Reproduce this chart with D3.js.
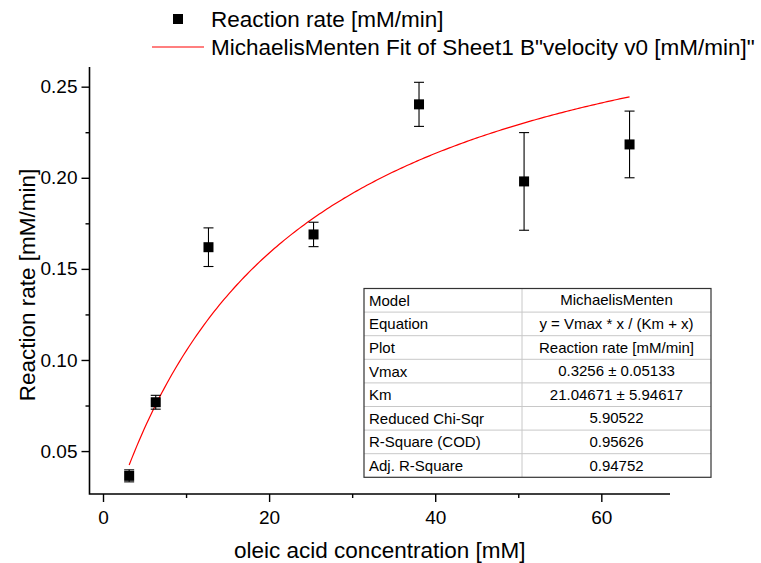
<!DOCTYPE html>
<html>
<head>
<meta charset="utf-8">
<script src="https://cdn.jsdelivr.net/npm/d3@7"></script>
<style>
  body { margin: 0; background: #fff; }
  svg { font-family: "Liberation Sans", Arial, sans-serif; }
</style>
</head>
<body>
<svg id="chart" width="761" height="563"></svg>
<script>
// measured points (oleic acid mM, rate mM/min, error)
const conc   = [3.15, 6.35, 12.7, 25.35, 38.05, 50.7, 63.4];
const rate   = [0.0364, 0.0768, 0.1619, 0.1689, 0.2403, 0.1980, 0.2183];
const rateSd = [0.0033, 0.0038, 0.0106, 0.0067, 0.0121, 0.0268, 0.0183];

// fit parameters from the Origin report
const vmax = 0.3256, km = 21.04671;
const fitRange = [3.15, 63.4];

const xTicks = [0, 20, 40, 60];
const xMinor = [10, 30, 50];
const yTicks = [0.05, 0.10, 0.15, 0.20, 0.25];
const yMinor = [0.075, 0.125, 0.175, 0.225];

const tableRows = [
  ["Model", "MichaelisMenten"],
  ["Equation", "y = Vmax * x / (Km + x)"],
  ["Plot", "Reaction rate [mM/min]"],
  ["Vmax", "0.3256 ± 0.05133"],
  ["Km", "21.04671 ± 5.94617"],
  ["Reduced Chi-Sqr", "5.90522"],
  ["R-Square (COD)", "0.95626"],
  ["Adj. R-Square", "0.94752"]
];

const svg = d3.select("#chart");
const L = 89.5, R = 670, T = 67, B = 494;

const x = d3.scaleLinear().domain([-1.626, 68.27]).range([L, R]);
const y = d3.scaleLinear().domain([0.02644, 0.2608]).range([B, T]);

// axes (left + bottom only), majors + minors
const xAxis = svg.append("g").attr("transform", `translate(0,${B})`)
  .call(d3.axisBottom(x).tickValues(xTicks).tickFormat(d3.format("d")).tickSize(8).tickPadding(9));
svg.append("g").attr("transform", `translate(0,${B})`)
  .call(d3.axisBottom(x).tickValues(xMinor).tickFormat("").tickSize(4))
  .select(".domain").remove();
const yAxis = svg.append("g").attr("transform", `translate(${L},0)`)
  .call(d3.axisLeft(y).tickValues(yTicks).tickFormat(d3.format(".2f")).tickSize(8).tickPadding(4));
svg.append("g").attr("transform", `translate(${L},0)`)
  .call(d3.axisLeft(y).tickValues(yMinor).tickFormat("").tickSize(4))
  .select(".domain").remove();

xAxis.select(".domain").remove();
yAxis.select(".domain").remove();
svg.append("path")
  .attr("d", `M${L},${T}V${B}H${R}`)
  .attr("fill", "none").attr("stroke", "#000").attr("stroke-width", 1.6);
svg.selectAll(".tick line").attr("stroke", "#000").attr("stroke-width", 1.4);
svg.selectAll(".tick text").attr("fill", "#000").style("font-size", "19px")
  .style("font-family", "'Liberation Sans', Arial, sans-serif");

// axis titles
svg.append("text")
  .attr("x", (L + R) / 2).attr("y", 558)
  .attr("text-anchor", "middle").style("font-size", "22.5px")
  .text("oleic acid concentration [mM]");
svg.append("text")
  .attr("transform", `translate(35,285) rotate(-90)`)
  .attr("text-anchor", "middle").style("font-size", "22.5px")
  .text("Reaction rate [mM/min]");

// fit curve
const fitX = d3.range(0, 201).map(i => fitRange[0] + (fitRange[1] - fitRange[0]) * i / 200);
const mm = c => vmax * c / (km + c);
svg.append("path")
  .datum(fitX)
  .attr("d", d3.line().x(d => x(d)).y(d => y(mm(d))))
  .attr("fill", "none").attr("stroke", "#ff0000").attr("stroke-width", 1.2);

// error bars
const pts = conc.map((c, i) => ({ c, r: rate[i], e: rateSd[i] }));
const eb = svg.append("g").attr("stroke", "#000").attr("stroke-width", 1.1);
eb.selectAll("line.v").data(pts).join("line")
  .attr("x1", d => x(d.c)).attr("x2", d => x(d.c))
  .attr("y1", d => y(d.r - d.e)).attr("y2", d => y(d.r + d.e));
eb.selectAll("line.t").data(pts).join("line")
  .attr("x1", d => x(d.c) - 5).attr("x2", d => x(d.c) + 5)
  .attr("y1", d => y(d.r + d.e)).attr("y2", d => y(d.r + d.e));
eb.selectAll("line.b").data(pts).join("line")
  .attr("x1", d => x(d.c) - 5).attr("x2", d => x(d.c) + 5)
  .attr("y1", d => y(d.r - d.e)).attr("y2", d => y(d.r - d.e));

// markers
svg.selectAll("rect.pt").data(pts).join("rect")
  .attr("x", d => x(d.c) - 5).attr("y", d => y(d.r) - 5)
  .attr("width", 10).attr("height", 10).attr("fill", "#000");

// legend
const lg = svg.append("g");
lg.append("rect").attr("x", 173).attr("y", 14).attr("width", 10).attr("height", 10).attr("fill", "#000");
lg.append("text").attr("x", 211).attr("y", 27).style("font-size", "22.5px").text("Reaction rate [mM/min]");
lg.append("line").attr("x1", 152).attr("x2", 204).attr("y1", 47).attr("y2", 47)
  .attr("stroke", "#ff0000").attr("stroke-width", 1.2);
lg.append("text").attr("x", 211).attr("y", 55).style("font-size", "22.5px")
  .text('MichaelisMenten Fit of Sheet1 B"velocity v0 [mM/min]"');

// parameter table
const tx0 = 364, tx1 = 522, tx2 = 711, ty0 = 288.5, rowH = 23.6;
const tb = svg.append("g");
tableRows.forEach((row, i) => {
  const yy = ty0 + i * rowH;
  if (i > 0) tb.append("line").attr("x1", tx0).attr("x2", tx2).attr("y1", yy).attr("y2", yy)
    .attr("stroke", "#c8c8c8").attr("stroke-width", 1);
  tb.append("text").attr("x", tx0 + 5).attr("y", yy + rowH / 2 + 5.5)
    .style("font-size", "15px").text(row[0]);
  tb.append("text").attr("x", (tx1 + tx2) / 2).attr("y", yy + rowH / 2 + 5)
    .attr("text-anchor", "middle").style("font-size", "15px").text(row[1]);
});
tb.append("line").attr("x1", tx1).attr("x2", tx1).attr("y1", ty0).attr("y2", ty0 + rowH * tableRows.length)
  .attr("stroke", "#c8c8c8").attr("stroke-width", 1);
tb.append("rect").attr("x", tx0).attr("y", ty0).attr("width", tx2 - tx0).attr("height", rowH * tableRows.length)
  .attr("fill", "none").attr("stroke", "#333").attr("stroke-width", 1.2);
</script>
</body>
</html>
